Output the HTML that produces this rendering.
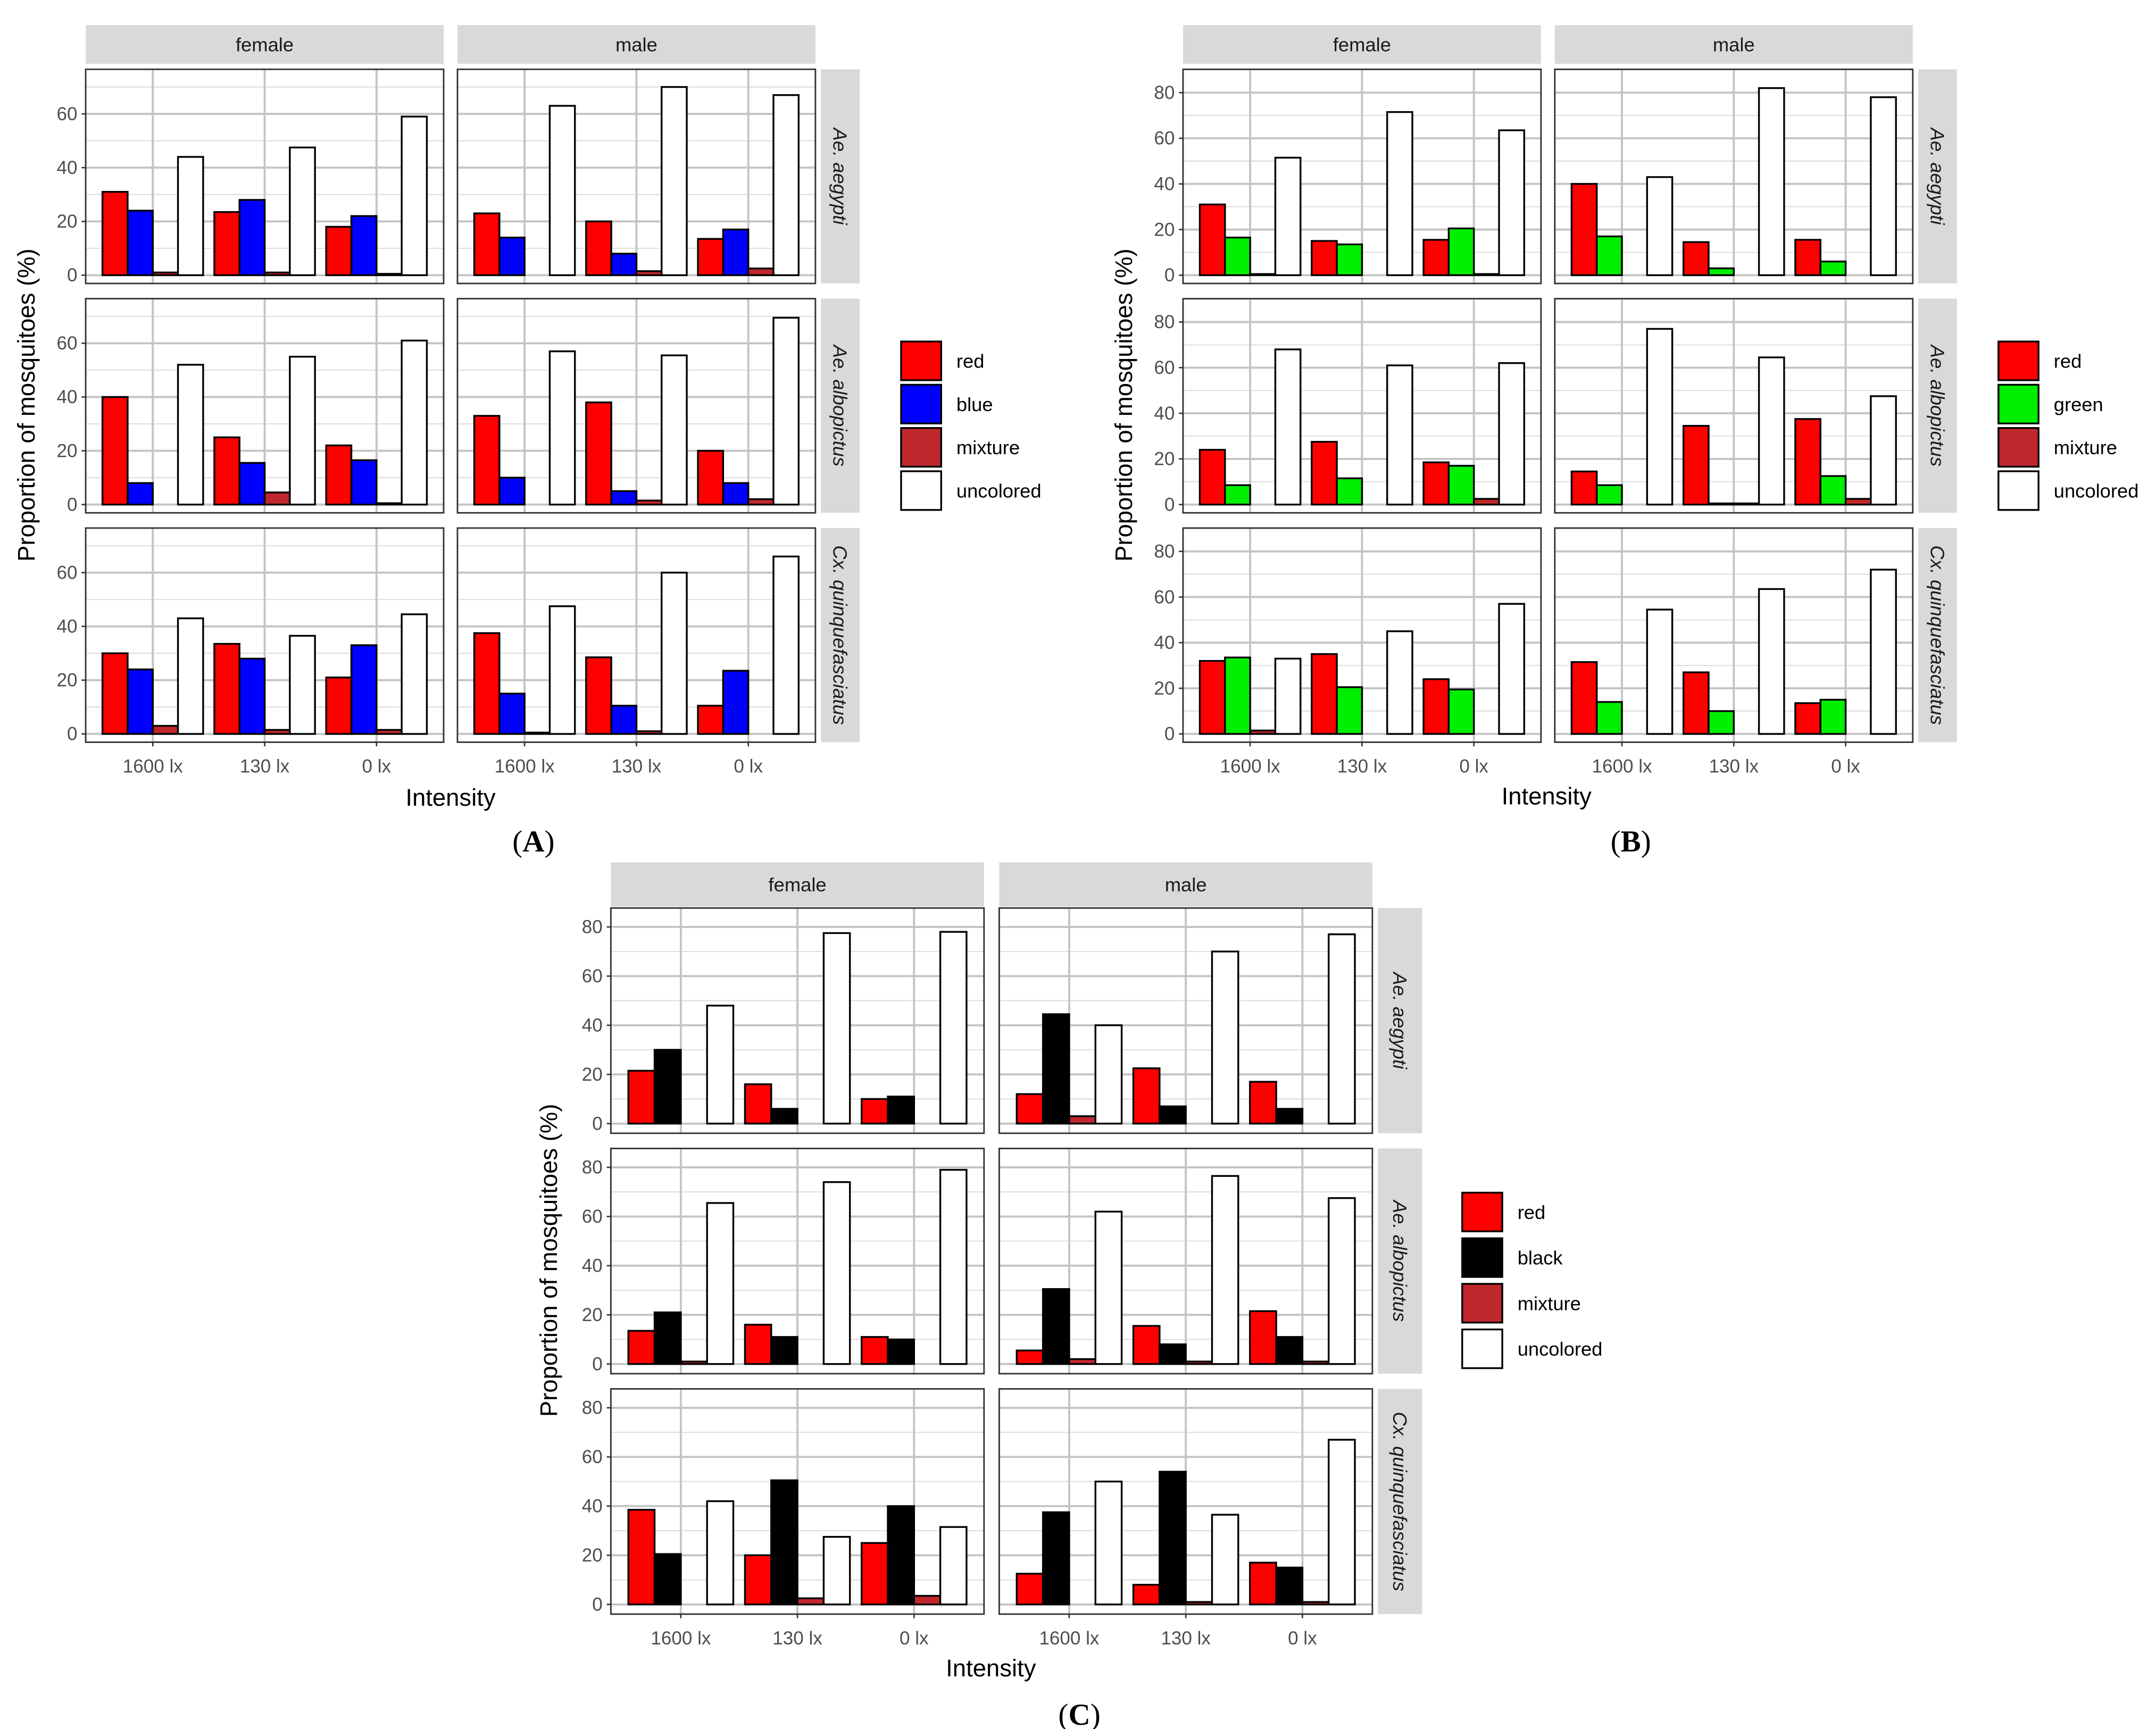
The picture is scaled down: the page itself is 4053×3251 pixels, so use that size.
<!DOCTYPE html>
<html><head><meta charset="utf-8"><style>
html,body{margin:0;padding:0;background:#fff;}
svg{display:block;}
text{font-family:"Liberation Sans",sans-serif;}
</style></head><body>
<svg id="fig" width="4053" height="3251" viewBox="0 0 1560 1251" xmlns="http://www.w3.org/2000/svg"></svg>
<script>
const intensities = ["1600 lx","130 lx","0 lx"];
const sexes = ["female","male"];
const species = ["Ae. aegypti","Ae. albopictus","Cx. quinquefasciatus"];
const ticksA = [0,20,40,60];
const ticksBC = [0,20,40,60,80];
const seriesA = ["red","blue","mixture","uncolored"];
const seriesB = ["red","green","mixture","uncolored"];
const seriesC = ["red","black","mixture","uncolored"];
// values [species][sex][intensity][series]
const valuesA = [
 [[[31,24,1,44],[23.5,28,1,47.5],[18,22,0.5,59]],[[23,14,0,63],[20,8,1.5,70],[13.5,17,2.5,67]]],
 [[[40,8,0,52],[25,15.5,4.5,55],[22,16.5,0.5,61]],[[33,10,0,57],[38,5,1.5,55.5],[20,8,2,69.5]]],
 [[[30,24,3,43],[33.5,28,1.5,36.5],[21,33,1.5,44.5]],[[37.5,15,0.5,47.5],[28.5,10.5,1,60],[10.5,23.5,0,66]]]
];
const valuesB = [
 [[[31,16.5,0.5,51.5],[15,13.5,0,71.5],[15.5,20.5,0.5,63.5]],[[40,17,0,43],[14.5,3,0,82],[15.5,6,0,78]]],
 [[[24,8.5,0,68],[27.5,11.5,0,61],[18.5,17,2.5,62]],[[14.5,8.5,0,77],[34.5,0.5,0.5,64.5],[37.5,12.5,2.5,47.5]]],
 [[[32,33.5,1.5,33],[35,20.5,0,45],[24,19.5,0,57]],[[31.5,14,0,54.5],[27,10,0,63.5],[13.5,15,0,72]]]
];
const valuesC = [
 [[[21.5,30,0,48],[16,6,0,77.5],[10,11,0,78]],[[12,44.5,3,40],[22.5,7,0,70],[17,6,0,77]]],
 [[[13.5,21,1,65.5],[16,11,0,74],[11,10,0,79]],[[5.5,30.5,2,62],[15.5,8,1,76.5],[21.5,11,1,67.5]]],
 [[[38.5,20.5,0,42],[20,50.5,2.5,27.5],[25,40,3.5,31.5]],[[12.5,37.5,0,50],[8,54,1,36.5],[17,15,1,67]]]
];

const NS="http://www.w3.org/2000/svg";
const svg=document.getElementById('fig');
function mk(tag,attrs,parent){const e=document.createElementNS(NS,tag);for(const k in attrs)e.setAttribute(k,attrs[k]);(parent||svg).appendChild(e);return e;}

function drawFig(c){
  const g=mk('g',{});
  
  
  const fills=[ '#ff0000', c.col2, '#c0272d', '#ffffff'];
  const pw=c.pw, ph=c.ph;
  const ymax=c.ymax;
  for(let s=0;s<2;s++){
    const px=c.x0+s*(pw+c.gap);
    const strip=mk('rect',{x:px,y:c.stripY,width:pw,height:c.stripH,fill:'#d9d9d9'},g);
    
    
    const st=mk('text',{x:px+pw/2,y:c.stripY+c.stripH/2+5,'text-anchor':'middle','font-size':14,fill:'#1a1a1a'},g);
    st.textContent=sexes[s];
    for(let r=0;r<3;r++){
      const py=c.y0+r*(ph+c.rgap);
      const bottom=py+ph-c.pad;
      const top=py+c.padTop;
      const yS=v=>bottom-(v/ymax)*(bottom-top);
      const groupW=pw/3.2;
      const xS=i=>px+groupW*(i+0.6);
      const pg=mk('g',{},g);
      
      
      mk('rect',{x:px,y:py,width:pw,height:ph,fill:'#fff'},pg);
      for(let t=0;t<c.ticks.length;t++){
        const mv=c.ticks[t]+ (c.ticks[1]-c.ticks[0])/2;
        if(yS(mv)>py) mk('line',{x1:px,x2:px+pw,y1:yS(mv),y2:yS(mv),stroke:'#dedede','stroke-width':0.8},pg);
      }
      c.ticks.forEach(t=>{
        mk('line',{x1:px,x2:px+pw,y1:yS(t),y2:yS(t),stroke:'#c4c4c4','stroke-width':1.5},pg);
        if(s===0){
          mk('line',{x1:px-3,x2:px,y1:yS(t),y2:yS(t),stroke:'#333','stroke-width':1},g);
          const tl=mk('text',{x:px-6,y:yS(t)+4.5,'text-anchor':'end','font-size':13.5,fill:'#4d4d4d'},g);
          tl.textContent=t;
        }
      });
      for(let i=0;i<3;i++) mk('line',{x1:xS(i),x2:xS(i),y1:py,y2:py+ph,stroke:'#c4c4c4','stroke-width':1.5},pg);
      const vals=c.values[r][s];
      const bw=groupW*0.9/4;
      for(let i=0;i<3;i++){
        for(let k=0;k<4;k++){
          const v=vals[i][k];
          const bx=xS(i)-2*bw+k*bw;
          const b=mk('rect',{x:bx,y:yS(v),width:bw,height:Math.max(bottom-yS(v),0),fill:fills[k],stroke:'#000','stroke-width':1.3},pg);
          
          
        }
      }
      mk('rect',{x:px,y:py,width:pw,height:ph,fill:'none',stroke:'#333','stroke-width':1.1},pg);
      if(r===2){
        for(let i=0;i<3;i++){
          mk('line',{x1:xS(i),x2:xS(i),y1:py+ph,y2:py+ph+3,stroke:'#333','stroke-width':1},g);
          const xl=mk('text',{x:xS(i),y:py+ph+22,'text-anchor':'middle','font-size':13.5,fill:'#4d4d4d'},g);
          xl.textContent=intensities[i];
        }
      }
      if(s===1){
        const sx=px+pw+4;
        const rs=mk('rect',{x:sx,y:py,width:c.stripH,height:ph,fill:'#d9d9d9'},g);
        
        
        const cx=sx+c.stripH/2, cy=py+ph/2;
        const sp=mk('text',{x:cx,y:cy,'text-anchor':'middle','font-size':14,'font-style':'italic',fill:'#1a1a1a',transform:`rotate(90 ${cx} ${cy}) translate(0 5)`},g);
        sp.textContent=species[r];
      }
    }
  }
  const yt=mk('text',{x:0,y:0,'text-anchor':'middle','font-size':17.5,fill:'#000',transform:`translate(${c.ytX} ${c.ytY}) rotate(-90)`},g);
  yt.textContent='Proportion of mosquitoes (%)';
  
  
  const xt=mk('text',{x:c.xtX,y:c.xtY,'text-anchor':'middle','font-size':17.5,fill:'#000'},g);
  xt.textContent='Intensity';
  
  
  for(let k=0;k<4;k++){
    const le=mk('g',{},g);
    
    
    mk('rect',{x:c.lgX,y:c.lgY+k*c.lgStep,width:29,height:28,fill:fills[k],stroke:'#000','stroke-width':1.3},le);
    const lt=mk('text',{x:c.lgX+40,y:c.lgY+k*c.lgStep+19,'font-size':14,fill:'#000'},le);
    lt.textContent=c.series[k];
  }
  const lab=mk('text',{x:c.labX,y:c.labY,'text-anchor':'middle','font-size':22,fill:'#000'},g);
  lab.setAttribute('style','font-family:"Liberation Serif",serif');
  lab.innerHTML='(<tspan font-weight="bold">'+c.id+'</tspan>)';
  
  
}
drawFig({id:'A',x0:62,gap:10,pw:259,ph:155,y0:50,rgap:11,stripY:18,stripH:28,pad:6,padTop:6,ymax:73.5,ticks:ticksA,values:valuesA,series:seriesA,col2:'#0000ff',ytX:25,ytY:293,xtX:326,xtY:583,lgX:652,lgY:247,lgStep:31.3,labX:386,labY:616});
drawFig({id:'B',x0:856,gap:10,pw:259,ph:155,y0:50,rgap:11,stripY:18,stripH:28,pad:6,padTop:6,ymax:86.6,ticks:ticksBC,values:valuesB,series:seriesB,col2:'#00ee00',ytX:819,ytY:293,xtX:1119,xtY:582,lgX:1446,lgY:247,lgStep:31.3,labX:1180,labY:616});
drawFig({id:'C',x0:442,gap:11,pw:270,ph:163,y0:657,rgap:11,stripY:624,stripH:32,pad:7,padTop:7,ymax:80+ (7/(1.8625)),ticks:ticksBC,values:valuesC,series:seriesC,col2:'#000000',ytX:403,ytY:912,xtX:717,xtY:1213,lgX:1058,lgY:863,lgStep:33,labX:781,labY:1248});
</script>
</body></html>
